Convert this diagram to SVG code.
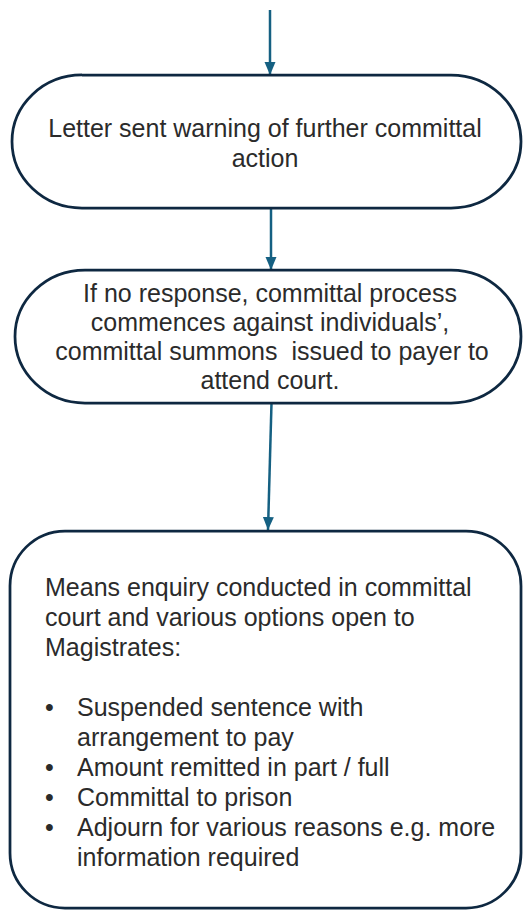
<svg xmlns="http://www.w3.org/2000/svg" width="523" height="914" viewBox="0 0 523 914">
<style>
.node{fill:#ffffff;stroke:#0e2841;stroke-width:2.75}
.conn{stroke:#156082;stroke-width:2.5;fill:none}
.t{font-family:"Liberation Sans",Arial,sans-serif;font-size:25px;fill:#2b2b2b}
.c{text-anchor:middle}
</style>
<defs>
<marker id="ah" markerUnits="userSpaceOnUse" markerWidth="14" markerHeight="14" viewBox="0 0 14 14" refX="13" refY="7" orient="auto">
<path d="M0,1.5 L13,7 L0,12.5 Z" fill="#156082"/>
</marker>
</defs>
<rect width="523" height="914" fill="#ffffff"/>
<g id="connectors">
<line class="conn" x1="270" y1="10" x2="270" y2="75" marker-end="url(#ah)"/>
<line class="conn" x1="271" y1="208" x2="271" y2="270" marker-end="url(#ah)"/>
<line class="conn" x1="271.5" y1="403" x2="268" y2="530" marker-end="url(#ah)"/>
</g>
<g id="node1">
<path class="node" d="M82,75 H451 A70,66.5 0 0 1 451,208 H82 A70,66.5 0 0 1 82,75 Z"/>
<text class="t c" x="265" y="137">Letter sent warning of further committal</text>
<text class="t c" x="265" y="167">action</text>
</g>
<g id="node2">
<path class="node" d="M85,270 H451 A70,66.5 0 0 1 451,403 H85 A70,66.5 0 0 1 85,270 Z"/>
<text class="t c" x="270" y="302">If no response, committal process</text>
<text class="t c" x="270" y="331">commences against individuals’,</text>
<text class="t c" x="272" y="360" xml:space="preserve">committal summons  issued to payer to</text>
<text class="t c" x="270" y="389">attend court.</text>
</g>
<g id="node3">
<rect class="node" x="10" y="531" width="511" height="377" rx="55" ry="55"/>
<text class="t" x="45" y="596">Means enquiry conducted in committal</text>
<text class="t" x="45" y="626">court and various options open to</text>
<text class="t" x="45" y="656">Magistrates:</text>
<text class="t" x="45" y="716">•</text>
<text class="t" x="77" y="716">Suspended sentence with</text>
<text class="t" x="77" y="746">arrangement to pay</text>
<text class="t" x="45" y="776">•</text>
<text class="t" x="77" y="776">Amount remitted in part / full</text>
<text class="t" x="45" y="806">•</text>
<text class="t" x="77" y="806">Committal to prison</text>
<text class="t" x="45" y="836">•</text>
<text class="t" x="77" y="836">Adjourn for various reasons e.g. more</text>
<text class="t" x="77" y="866">information required</text>
</g>
</svg>
